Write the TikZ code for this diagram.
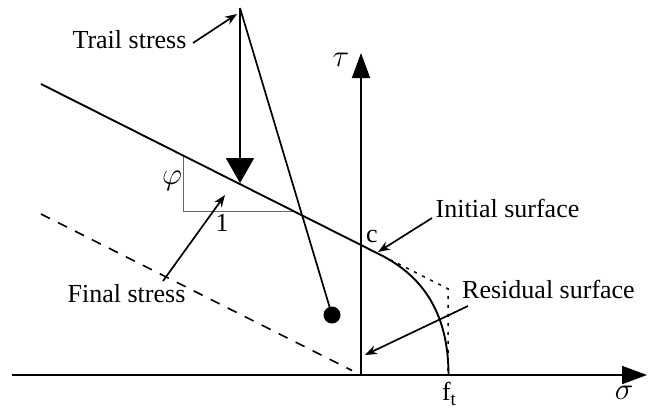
\documentclass[tikz,border=0pt]{standalone}
\usepackage{fontspec}
\setmainfont{Liberation Serif}
\usetikzlibrary{arrows.meta}
\begin{document}
\begin{tikzpicture}[x=1pt,y=-1pt,
  lbl/.style={font=\fontsize{26}{30}\selectfont, inner sep=0pt},
  sym/.style={font=\fontsize{24.88}{28}\selectfont, inner sep=0pt, scale=1.25},
  mainline/.style={line width=1.9pt},
  axisline/.style={line width=1.9pt, -{Triangle[length=25pt,width=18pt]}},
  ptr/.style={line width=1.7pt, -{Stealth[length=12pt,width=9pt]}},
  thinline/.style={line width=0.9pt, black!60}]
\useasboundingbox (0,0) rectangle (654,410);
% key points
\coordinate (O) at (361,375);
\coordinate (sigL) at (12,375);
\coordinate (sigR) at (647,375);
\coordinate (tauT) at (361,53);
\coordinate (L0) at (41,84);
\coordinate (b0) at (380,254.6);
\coordinate (ftp) at (448.5,375);
\coordinate (top) at (240,8);
\coordinate (trailtip) at (240,183);
% axes
\draw[axisline] (sigL) -- (sigR);
\draw[axisline] (O) -- (tauT);
% slope triangle
\draw[thinline] (183,155.5) -- (183,211) -- (293,211);
% initial surface
\draw[mainline] (L0) -- (b0) .. controls (420,274.7) and (448.5,310) .. (ftp);
% residual surface (dotted)
\draw[line width=1.5pt, dash pattern=on 3pt off 6pt] (390,259.6) -- (448,288.8) -- (448,375);
% dashed line
\draw[line width=1.6pt, dash pattern=on 10pt off 9pt] (41,214) -- (352,370.5);
% trail stress
\draw[line width=2pt, -{Triangle[length=25pt,width=28pt]}] (top) -- (trailtip);
\node[circle, fill, minimum size=17pt, inner sep=0pt] (dot) at (332,315) {};
\draw[line width=1.7pt] (top) -- (dot.center);
% labels
\node[lbl] (trail) at (129.5,40) {Trail stress};
\node[lbl] (final) at (126.5,294) {Final stress};
\node[lbl] (initial) at (507.5,208.5) {Initial surface};
\node[lbl] (residual) at (548.5,289) {Residual surface};
\node[lbl] (clbl) at (372,236) {c};
\node[lbl] (one) at (222,223) {1};
\node[sym] (phi) at (172,181) {$\varphi$};
\node[sym] (tau) at (341,60) {$\tau$};
\node[sym] (sigma) at (624,393) {$\sigma$};
\node[lbl, anchor=base] (ft) at (449,400) {f\lower5pt\hbox{\fontsize{19}{20}\selectfont t}};
% pointer arrows
\coordinate (tr0) at (193,43);
\coordinate (tr1) at (237,14);
\draw[ptr] (tr0) -- (tr1);
\coordinate (fs0) at (163,281);
\coordinate (fs1) at (225,195);
\draw[ptr] (fs0) -- (fs1);
\coordinate (is0) at (432,218);
\coordinate (is1) at (378,252);
\draw[ptr] (is0) -- (is1);
\coordinate (rs0) at (468,306);
\coordinate (rs1) at (365,355);
\draw[ptr] (rs0) -- (rs1);
\end{tikzpicture}
\end{document}
